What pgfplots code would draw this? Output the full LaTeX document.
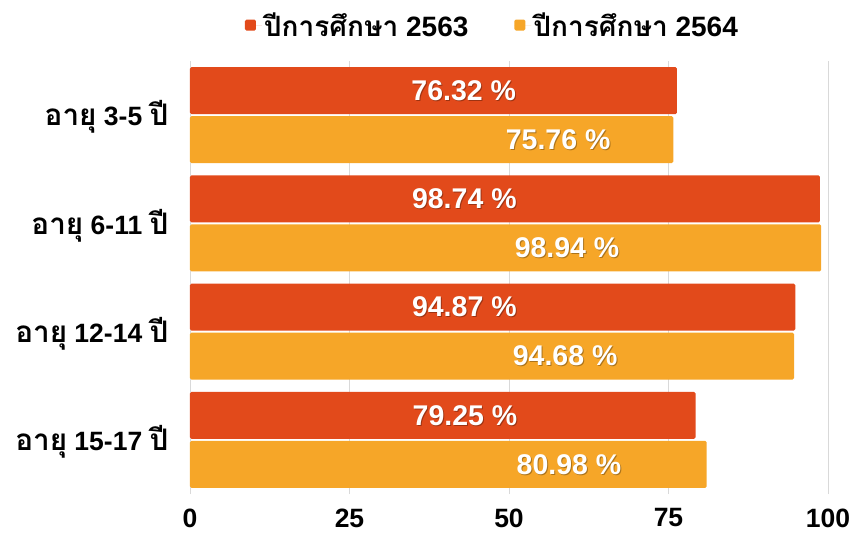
\documentclass[border=0pt]{standalone}
\usepackage{pgfplots}
\pgfplotsset{compat=1.18}
\usepackage{pgfplotstable}
\usepackage{fontspec}
\setmainfont{Liberation Sans}
\newfontfamily\thai[Script=Thai]{Loma}
\newfontfamily\thaibig[Script=Thai, Scale=1.12]{Loma}
\definecolor{cred}{RGB}{226,74,27}
\definecolor{corange}{RGB}{246,166,40}
\definecolor{gridc}{RGB}{217,217,217}
\newcommand{\thx}[1]{{\thai #1}}
\newcommand{\thy}[1]{{\thaibig #1}}

\pgfplotstableread{
y v lx
3 76.32 42.9
2 98.74 43.0
1 94.87 43.0
0 79.25 43.1
}\redtab
\pgfplotstableread{
y v lx
3 75.76 57.7
2 98.94 59.1
1 94.68 58.8
0 80.98 59.4
}\orangetab

\begin{document}
\begin{tikzpicture}
\begin{axis}[
  scale only axis, width=638bp, height=433bp,
  xmin=0, xmax=100, ymin=-0.5, ymax=3.5,
  /pgf/number format/assume math mode=true,
  axis line style={draw=none},
  xtick={0,25,50,75,100},
  xmajorgrids, grid style={gridc, line width=0.8bp},
  major tick length=0pt,
  xticklabel style={font=\bfseries\fontsize{26.5bp}{26.5bp}\selectfont, yshift=-11bp},
  ytick={0,1,2,3},
  yticklabels={{\thy{อายุ} 15-17 \thy{ปี}},{\thy{อายุ} 12-14 \thy{ปี}},{\thy{อายุ} 6-11 \thy{ปี}},{\thy{อายุ} 3-5 \thy{ปี}}},
  yticklabel style={font=\bfseries\fontsize{26.5bp}{26.5bp}\selectfont, xshift=-18bp, yshift=-2bp},
  legend style={draw=none, at={(0.474,1.083)}, anchor=center,
    font=\bfseries\fontsize{28bp}{28bp}\selectfont, inner sep=0pt,
    /tikz/every even column/.append style={column sep=44bp}},
  legend columns=2,
  legend cell align=left,
]
\addplot[xbar, bar width=47bp, bar shift=24.5bp, fill=cred, draw=none, rounded corners=1.5bp,
  legend image code/.code={\fill[cred] (0bp,-5.5bp) rectangle (11bp,5.5bp); \path (0bp,0bp) -- (17bp,0bp);}]
  table[x=v,y=y]{\redtab};
\addlegendentry{\thx{ปีการศึกษา} 2563}
\addplot[xbar, bar width=47bp, bar shift=-24.5bp, fill=corange, draw=none, rounded corners=1.5bp,
  legend image code/.code={\fill[corange] (0bp,-5.5bp) rectangle (11bp,5.5bp); \path (0bp,0bp) -- (17bp,0bp);}]
  table[x=v,y=y]{\orangetab};
\addlegendentry{\thx{ปีการศึกษา} 2564}
% label shadows
\addplot[draw=none, mark=none, forget plot, point meta=\thisrow{v},
  nodes near coords={\pgfmathprintnumber[fixed,precision=2,fixed zerofill]{\pgfplotspointmeta} \%},
  every node near coord/.append style={anchor=center, yshift=23.5bp, xshift=1bp, text=black, opacity=0.3,
    font=\bfseries\fontsize{28.5bp}{28.5bp}\selectfont}]
  table[x=lx,y=y]{\redtab};
\addplot[draw=none, mark=none, forget plot, point meta=\thisrow{v},
  nodes near coords={\pgfmathprintnumber[fixed,precision=2,fixed zerofill]{\pgfplotspointmeta} \%},
  every node near coord/.append style={anchor=center, yshift=-25.5bp, xshift=1bp, text=black, opacity=0.3,
    font=\bfseries\fontsize{28.5bp}{28.5bp}\selectfont}]
  table[x=lx,y=y]{\orangetab};
% labels
\addplot[draw=none, mark=none, forget plot, point meta=\thisrow{v},
  nodes near coords={\pgfmathprintnumber[fixed,precision=2,fixed zerofill]{\pgfplotspointmeta} \%},
  every node near coord/.append style={anchor=center, yshift=24.5bp, text=white,
    font=\bfseries\fontsize{28.5bp}{28.5bp}\selectfont}]
  table[x=lx,y=y]{\redtab};
\addplot[draw=none, mark=none, forget plot, point meta=\thisrow{v},
  nodes near coords={\pgfmathprintnumber[fixed,precision=2,fixed zerofill]{\pgfplotspointmeta} \%},
  every node near coord/.append style={anchor=center, yshift=-24.5bp, text=white,
    font=\bfseries\fontsize{28.5bp}{28.5bp}\selectfont}]
  table[x=lx,y=y]{\orangetab};
\end{axis}
\pgfresetboundingbox
\path (-190bp,-40bp) rectangle (661bp,494bp);
\end{tikzpicture}
\end{document}
